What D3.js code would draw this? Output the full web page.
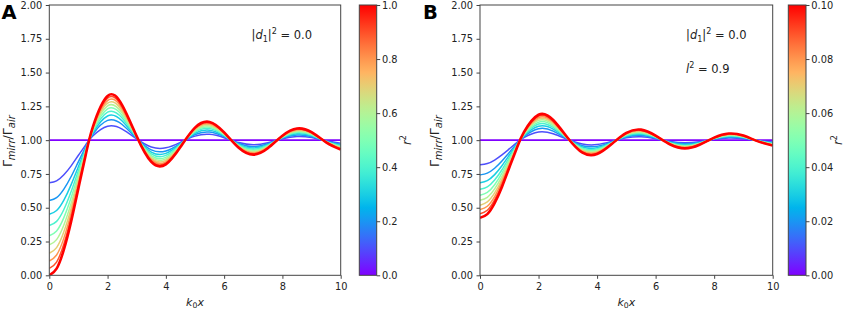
<!DOCTYPE html>
<html><head><meta charset="utf-8">
<script src="https://cdn.jsdelivr.net/npm/d3@7"></script>
<style>body{margin:0;background:#fff} svg{display:block} text{font-family:"DejaVu Sans",sans-serif}</style>
</head><body>
<svg id="c" width="851" height="310"></svg>
<script>
// ---------- data ----------
const xs = [0,0.25,0.5,0.75,1,1.25,1.5,2,2.5,3,3.5,4,4.5,5,5.5,6,6.5,7,7.5,8,8.5,9,9.5,10];
const xTicks = [0,2,4,6,8,10];
const yTicks = [0,0.25,0.5,0.75,1,1.25,1.5,1.75,2];
const cbTicksA = [0,0.2,0.4,0.6,0.8,1.0];
const cbTicksB = [0,0.02,0.04,0.06,0.08,0.10];
const r2A = [0,0.1,0.2,0.3,0.4,0.5,0.6,0.7,0.8,0.9,1.0];
const r2B = [0,0.01,0.02,0.03,0.04,0.05,0.06,0.07,0.08,0.09,0.10];

const flat = [1,1,1,1,1,1,1,1,1,1,1,1,1,1,1,1,1,1,1,1,1,1,1,1];
const A_r2_01 = [0.684,0.699,0.744,0.810,0.888,0.965,1.032,1.103,1.082,1.009,0.949,0.943,0.984,1.030,1.043,1.018,0.982,0.966,0.981,1.010,1.027,1.019,0.995,0.978];
const A_r2_02 = [0.553,0.575,0.638,0.731,0.841,0.951,1.046,1.146,1.116,1.012,0.928,0.920,0.977,1.042,1.060,1.026,0.975,0.952,0.973,1.015,1.038,1.027,0.993,0.969];
const A_r2_03 = [0.452,0.479,0.556,0.671,0.805,0.940,1.056,1.179,1.142,1.015,0.912,0.902,0.972,1.051,1.074,1.032,0.969,0.942,0.967,1.018,1.047,1.032,0.991,0.962];
const A_r2_04 = [0.368,0.399,0.487,0.620,0.775,0.931,1.065,1.207,1.164,1.018,0.898,0.887,0.968,1.059,1.086,1.037,0.964,0.933,0.962,1.021,1.054,1.038,0.990,0.956];
const A_r2_05 = [0.293,0.328,0.427,0.575,0.749,0.923,1.072,1.231,1.183,1.020,0.886,0.873,0.964,1.066,1.096,1.041,0.960,0.925,0.958,1.023,1.061,1.042,0.989,0.951];
const A_r2_06 = [0.225,0.264,0.372,0.534,0.725,0.915,1.079,1.254,1.201,1.022,0.875,0.861,0.960,1.072,1.105,1.045,0.956,0.917,0.954,1.025,1.067,1.046,0.988,0.946];
const A_r2_07 = [0.163,0.205,0.322,0.497,0.703,0.908,1.086,1.274,1.217,1.023,0.865,0.850,0.957,1.078,1.113,1.048,0.953,0.911,0.950,1.027,1.072,1.050,0.987,0.942];
const A_r2_08 = [0.106,0.150,0.275,0.462,0.682,0.902,1.092,1.293,1.232,1.025,0.856,0.840,0.954,1.084,1.121,1.052,0.950,0.905,0.947,1.029,1.077,1.053,0.986,0.938];
const A_r2_09 = [0.051,0.098,0.231,0.430,0.663,0.896,1.097,1.311,1.246,1.026,0.847,0.830,0.952,1.089,1.128,1.055,0.947,0.899,0.943,1.031,1.082,1.056,0.985,0.934];
const A_r2_10 = [0.000,0.049,0.190,0.399,0.645,0.891,1.102,1.327,1.259,1.028,0.839,0.821,0.949,1.093,1.135,1.058,0.944,0.893,0.940,1.033,1.086,1.059,0.984,0.930];

const B_r2_001 = [0.818,0.827,0.853,0.891,0.935,0.980,1.019,1.060,1.047,1.005,0.971,0.967,0.991,1.017,1.025,1.011,0.990,0.981,0.989,1.006,1.016,1.011,0.997,0.987];
const B_r2_002 = [0.743,0.756,0.792,0.845,0.909,0.972,1.026,1.084,1.067,1.007,0.959,0.954,0.987,1.024,1.035,1.015,0.986,0.973,0.985,1.008,1.022,1.015,0.996,0.982];
const B_r2_003 = [0.685,0.701,0.745,0.811,0.888,0.966,1.032,1.103,1.082,1.009,0.949,0.944,0.984,1.029,1.043,1.018,0.982,0.966,0.981,1.010,1.027,1.019,0.995,0.978];
const B_r2_004 = [0.636,0.654,0.705,0.781,0.871,0.960,1.037,1.119,1.094,1.010,0.941,0.935,0.981,1.034,1.049,1.021,0.980,0.961,0.978,1.012,1.031,1.022,0.994,0.975];
const B_r2_005 = [0.593,0.613,0.670,0.756,0.856,0.956,1.042,1.133,1.105,1.011,0.935,0.927,0.979,1.038,1.055,1.024,0.977,0.957,0.976,1.013,1.035,1.024,0.994,0.972];
const B_r2_006 = [0.555,0.577,0.639,0.732,0.842,0.951,1.046,1.146,1.115,1.012,0.928,0.920,0.977,1.042,1.060,1.026,0.975,0.953,0.973,1.014,1.038,1.026,0.993,0.969];
const B_r2_007 = [0.519,0.543,0.610,0.711,0.829,0.947,1.049,1.157,1.125,1.013,0.923,0.914,0.975,1.045,1.065,1.028,0.973,0.949,0.971,1.016,1.041,1.029,0.992,0.966];
const B_r2_008 = [0.486,0.511,0.583,0.691,0.817,0.944,1.053,1.168,1.133,1.014,0.917,0.908,0.974,1.048,1.070,1.030,0.971,0.945,0.969,1.017,1.044,1.031,0.992,0.964];
const B_r2_009 = [0.455,0.481,0.558,0.672,0.806,0.940,1.056,1.179,1.141,1.015,0.912,0.902,0.972,1.051,1.074,1.032,0.969,0.942,0.967,1.018,1.047,1.032,0.991,0.962];
const B_r2_010 = [0.425,0.453,0.534,0.654,0.796,0.937,1.059,1.188,1.149,1.016,0.907,0.897,0.971,1.054,1.078,1.033,0.968,0.939,0.966,1.019,1.049,1.034,0.991,0.960];

const curvesA = [flat,A_r2_01,A_r2_02,A_r2_03,A_r2_04,A_r2_05,A_r2_06,A_r2_07,A_r2_08,A_r2_09,A_r2_10];
const curvesB = [flat,B_r2_001,B_r2_002,B_r2_003,B_r2_004,B_r2_005,B_r2_006,B_r2_007,B_r2_008,B_r2_009,B_r2_010];

// ---------- drawing ----------
const svg = d3.select('#c');
const defs = svg.append('defs');
const AX = '#444';
const FS = 9.8;

function rainbow(t){
  const r = Math.min(1, Math.abs(2*t-0.5)), g = Math.sin(Math.PI*t), b = Math.cos(Math.PI*t/2);
  return d3.rgb(Math.round(r*255), Math.round(g*255), Math.round(b*255)).formatHex();
}

// rich text helper: parts [{t, it, sub, sup}]
function rich(sel, parts, size, scale){
  scale = scale || 0.7;
  let cur = 0;
  parts.forEach(p=>{
    const target = p.sub ? 0.25*size : (p.sup ? -0.42*size : 0);
    const ts = sel.append('tspan').text(p.t).attr('dy', target-cur);
    if (p.sub || p.sup) ts.attr('font-size', size*scale);
    if (p.it) ts.attr('font-style','italic');
    cur = target;
  });
}

function panel(p){
  const x = d3.scaleLinear().domain([0,10]).range([p.x0,p.x1]);
  const y = d3.scaleLinear().domain([0,2]).range([p.y1,p.y0]);
  const g = svg.append('g');

  defs.append('clipPath').attr('id','clip'+p.id).append('rect')
    .attr('x',p.x0).attr('y',p.y0).attr('width',p.x1-p.x0).attr('height',p.y1-p.y0);

  const line = d3.line().x((d,j)=>x(xs[j])).y(d=>y(d)).curve(d3.curveNatural);
  const lg = g.append('g').attr('clip-path','url(#clip'+p.id+')');
  p.curves.forEach((vals,i)=>{
    const last = i===p.curves.length-1;
    lg.append('path').datum(vals).attr('d',line)
      .attr('fill','none').attr('stroke',rainbow(p.r2[i]/p.cbMax))
      .attr('stroke-width', last?2.6:(i===0?1.8:1.5)).attr('stroke-linejoin','round');
  });

  // axes
  const xa = g.append('g').attr('transform',`translate(0,${p.y1})`)
    .call(d3.axisBottom(x).tickValues(xTicks).tickFormat(d3.format('d')).tickSize(3.5).tickPadding(4.5));
  const ya = g.append('g').attr('transform',`translate(${p.x0},0)`)
    .call(d3.axisLeft(y).tickValues(yTicks).tickFormat(d3.format('.2f')).tickSize(3.5).tickPadding(3.5));
  [xa,ya].forEach(a=>{
    a.select('.domain').remove();
    a.selectAll('line').attr('stroke',AX);
    a.selectAll('text').attr('font-size',FS).attr('fill','#222').attr('font-family','DejaVu Sans');
  });
  g.append('rect').attr('x',p.x0).attr('y',p.y0).attr('width',p.x1-p.x0).attr('height',p.y1-p.y0)
    .attr('fill','none').attr('stroke',AX).attr('stroke-width',1);

  // x label
  const xl = g.append('text').attr('x',(p.x0+p.x1)/2).attr('y',305.5).attr('text-anchor','middle')
    .attr('font-size',11).attr('fill','#222');
  rich(xl,[{t:'k',it:true},{t:'0',sub:true},{t:'x',it:true}],11);

  // y label
  const yl = g.append('text').attr('transform',`translate(${p.ylx},${(p.y0+p.y1)/2 + 1}) rotate(-90)`)
    .attr('text-anchor','middle').attr('font-size',12.5).attr('fill','#222');
  rich(yl,[{t:'Γ'},{t:'mirr',sub:true,it:true},{t:'/Γ'},{t:'air',sub:true,it:true}],12.5,0.8);

  // panel letter
  g.append('text').attr('x',p.lx).attr('y',18.5).text(p.id)
    .attr('font-family','Liberation Sans, Arial, sans-serif').attr('font-weight','bold').attr('font-size',19.5).attr('fill','#000');

  // annotations
  p.annots.forEach(a=>{
    const t = g.append('text').attr('x',a.x).attr('y',a.y).attr('font-size',11.5).attr('fill','#222');
    rich(t,a.parts,11.5);
  });

  // colorbar
  const gid = 'grad'+p.id;
  const grad = defs.append('linearGradient').attr('id',gid).attr('x1',0).attr('y1',1).attr('x2',0).attr('y2',0);
  d3.range(0,1.0001,0.025).forEach(t=>grad.append('stop').attr('offset',t).attr('stop-color',rainbow(t)));
  g.append('rect').attr('x',p.cb0).attr('y',p.y0).attr('width',p.cb1-p.cb0).attr('height',p.y1-p.y0)
    .attr('fill',`url(#${gid})`).attr('stroke',AX).attr('stroke-width',1);
  const cs = d3.scaleLinear().domain([0,p.cbMax]).range([p.y1,p.y0]);
  const ca = g.append('g').attr('transform',`translate(${p.cb1},0)`)
    .call(d3.axisRight(cs).tickValues(p.cbTicks).tickFormat(d3.format(p.cbFmt)).tickSize(3.5).tickPadding(1.8));
  ca.select('.domain').remove();
  ca.selectAll('line').attr('stroke',AX);
  ca.selectAll('text').attr('font-size',FS).attr('fill','#222').attr('font-family','DejaVu Sans');
  const cl = g.append('text').attr('transform',`translate(${p.cblx},${(p.y0+p.y1)/2}) rotate(-90)`)
    .attr('text-anchor','middle').attr('font-size',11.5).attr('fill','#222');
  rich(cl,[{t:'r',it:true},{t:'2',sup:true}],11.5);
}

panel({id:'A', x0:49.3, x1:340.7, y0:5, y1:275.3, cb0:359.3, cb1:376.7, cbMax:1, cbTicks:cbTicksA, cbFmt:'.1f',
  curves:curvesA, r2:r2A, ylx:12, lx:1.5, cblx:411,
  annots:[{x:251.5,y:39,parts:[{t:'|'},{t:'d',it:true},{t:'1',sub:true},{t:'|'},{t:'2',sup:true},{t:' = 0.0'}]}]});
panel({id:'B', x0:480, x1:772.7, y0:5, y1:275.3, cb0:788.3, cb1:806, cbMax:0.1, cbTicks:cbTicksB, cbFmt:'.2f',
  curves:curvesB, r2:r2B, ylx:439, lx:423, cblx:842,
  annots:[{x:686,y:39.3,parts:[{t:'|'},{t:'d',it:true},{t:'1',sub:true},{t:'|'},{t:'2',sup:true},{t:' = 0.0'}]},
          {x:686,y:72.7,parts:[{t:'l',it:true},{t:'2',sup:true},{t:' = 0.9'}]}]});
</script>
</body></html>
